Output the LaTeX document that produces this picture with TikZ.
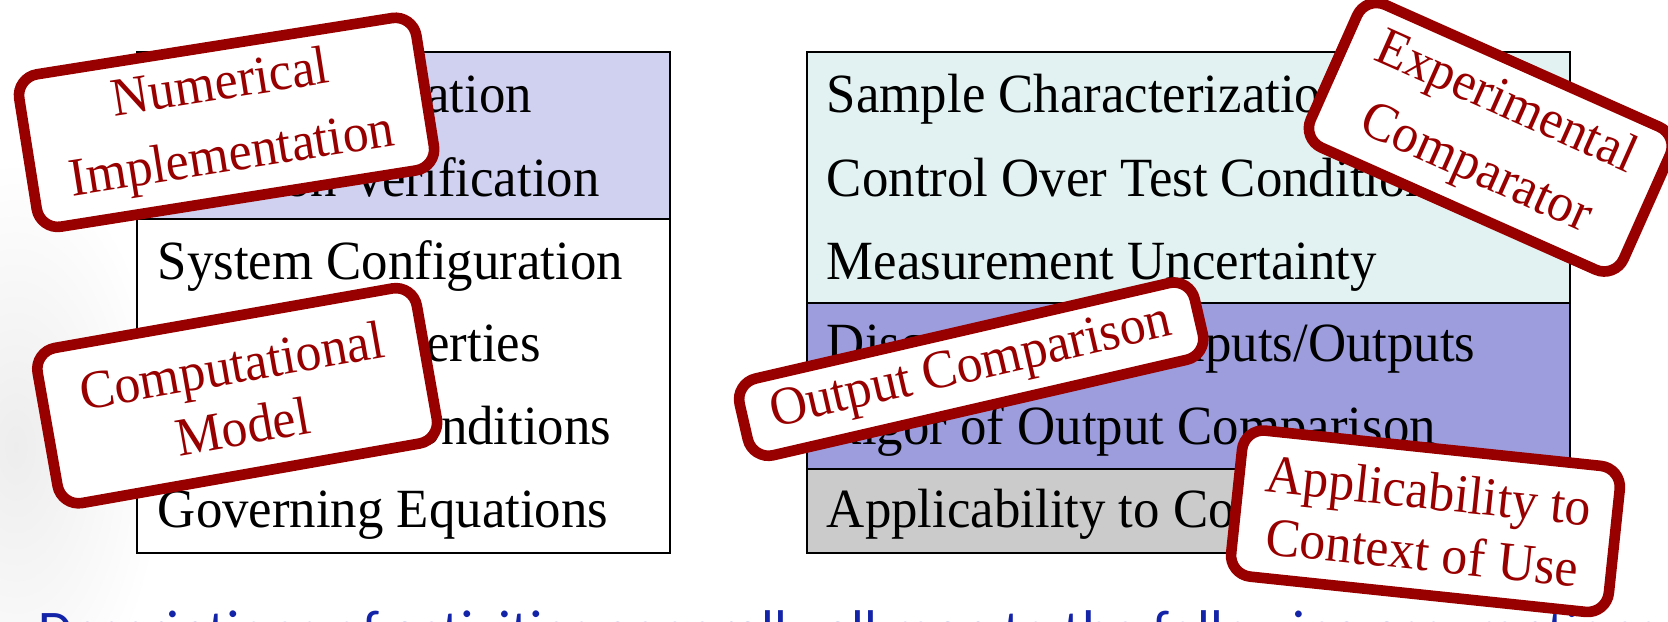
\documentclass[tikz,border=0pt]{standalone}
\usepackage{fontspec}
\setmainfont[FakeStretch=0.955]{Liberation Serif}
\newfontfamily\notefont{Carlito}
\definecolor{lavender}{RGB}{208,208,240}
\definecolor{paleteal}{RGB}{226,242,242}
\definecolor{periwinkle}{RGB}{157,157,222}
\definecolor{lightgrey}{RGB}{203,203,203}
\definecolor{stampred}{RGB}{152,0,0}
\definecolor{noteblue}{RGB}{20,36,168}

\begin{document}
\begin{tikzpicture}[x=0.5pt,y=-0.5pt,
  cell/.style={draw=black, line width=1pt, inner sep=0pt, anchor=north west},
  row/.style={anchor=base west, inner sep=0pt, font=\fontsize{26}{30}\selectfont},
  stamp/.style={draw=stampred, line width=5pt, rounded corners=10pt, fill=white,
                text=stampred, align=center, inner sep=0pt},
]
\useasboundingbox (0,0) rectangle (1568,584.7);
\clip (0,0) rectangle (1568,584.7);

% soft grey haze on the left margin
\shade[inner color=black!7, outer color=white] (15,420) ellipse [x radius=140, y radius=270];

% left table: verification / computational model
\node[cell, fill=lavender, minimum width=250.5pt, minimum height=78.5pt] (verif) at (128,48) {};
\node[cell, fill=white, minimum width=250.5pt, minimum height=157pt] (model) at (128,205) {};

% right table: comparator / assessment / applicability
\node[cell, fill=paleteal, minimum width=358.5pt, minimum height=118pt] (comparator) at (758,48) {};
\node[cell, fill=periwinkle, minimum width=358.5pt, minimum height=78pt] (assessment) at (758,284) {};
\node[cell, fill=lightgrey, minimum width=358.5pt, minimum height=39.5pt] (applic) at (758,440) {};

% left table rows
\node[row] (l1) at (148,106) {Code Verification};
\node[row] (l2) at (148,185) {Solution Verification};
\node[row] (l3) at (148,263) {System Configuration};
\node[row] (l4) at (148,340) {System Properties};
\node[row] (l5) at (148,418) {Boundary Conditions};
\node[row] (l6) at (148,496) {Governing Equations};

% right table rows
\node[row] (r1) at (777,106) {Sample Characterization};
\node[row] (r2) at (777,185) {Control Over Test Conditions};
\node[row] (r3) at (777,263) {Measurement Uncertainty};
\node[row] (r4) at (777,340) {Discrepancy of Inputs/Outputs};
\node[row] (r5) at (777,418) {Rigor of Output Comparison};
\node[row] (r6) at (777,496) {Applicability to Context of Use};

% caption line along the bottom edge
\node[anchor=base west, inner sep=0pt, text=noteblue,
      font=\notefont\fontsize{26.3}{30}\selectfont] (note) at (36,610.4)
  {Descriptions of activities generally all map to the following assumptions};

% rubber stamps
\node[stamp, font=\fontsize{25.5}{34}\selectfont, minimum width=189pt,
      minimum height=72.5pt, rotate=9] (numimpl) at (213,115) {Numerical\\Implementation};
\node[stamp, font=\fontsize{25.5}{29}\selectfont, minimum width=181pt,
      minimum height=74pt, rotate=10] (compmodel) at (223,372) {Computational\\Model};
\node[stamp, font=\fontsize{25.5}{34}\selectfont, minimum width=161pt,
      minimum height=73.5pt, rotate=-24] (expcomp) at (1401,129) {Experimental\\Comparator};
\node[stamp, font=\fontsize{25.5}{29}\selectfont, minimum width=219.5pt,
      minimum height=37pt, rotate=13] (outcomp) at (913,347) {Output Comparison};
\node[stamp, font=\fontsize{25.5}{29}\selectfont, minimum width=178.5pt,
      minimum height=69pt, rotate=-6] (applcou) at (1340,490) {Applicability to\\Context of Use};
\end{tikzpicture}
\end{document}
